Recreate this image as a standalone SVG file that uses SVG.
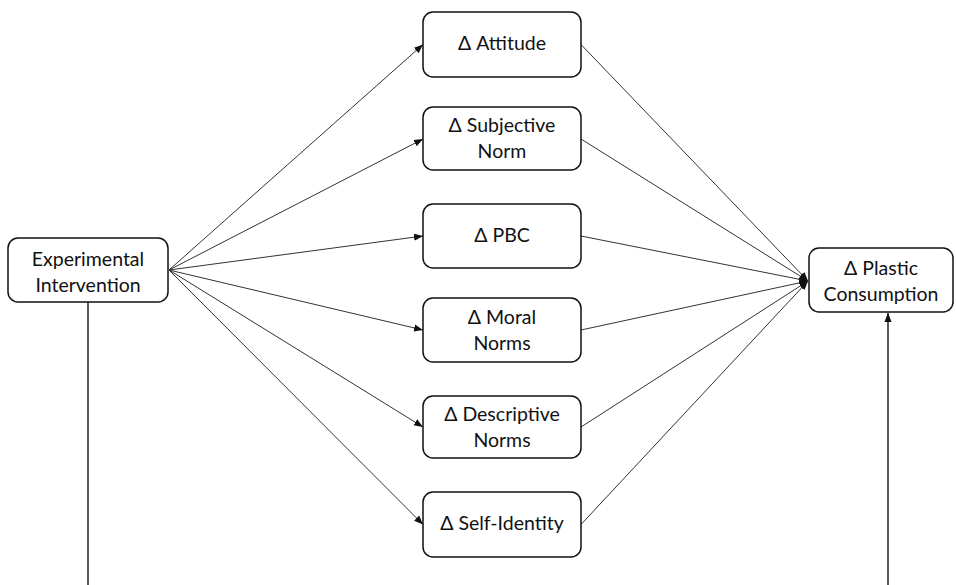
<svg xmlns="http://www.w3.org/2000/svg" width="956" height="585" viewBox="0 0 956 585">
  <style>
    .box { fill: #ffffff; stroke: #111111; stroke-width: 1.5; }
    .lbl { font-family: "Lato", "Open Sans", "Liberation Sans", sans-serif; font-size: 19.5px; fill: #111111; text-anchor: middle; }
    .edge { fill: none; stroke: #333333; stroke-width: 1; }
    .edge-arrow { marker-end: url(#head); }
    .stem { fill: none; stroke: #333333; stroke-width: 1.6; }
  </style>
  <defs>
    <marker id="head" viewBox="0 0 10 10" refX="10" refY="5" markerWidth="9" markerHeight="9" markerUnits="userSpaceOnUse" orient="auto">
      <path d="M0,1 L10,5 L0,9 Z" fill="#111111"/>
    </marker>
  </defs>
  <rect width="956" height="585" fill="#ffffff"/>

  <g id="connectors">
    <!-- intervention to each mediator -->
    <line class="edge edge-arrow" x1="169" y1="270" x2="423" y2="44.5"/>
    <line class="edge edge-arrow" x1="169" y1="270" x2="423" y2="139"/>
    <line class="edge edge-arrow" x1="169" y1="270" x2="423" y2="236"/>
    <line class="edge edge-arrow" x1="169" y1="270" x2="423" y2="330"/>
    <line class="edge edge-arrow" x1="169" y1="270" x2="423" y2="427"/>
    <line class="edge edge-arrow" x1="169" y1="270" x2="423" y2="524.5"/>
    <!-- each mediator to plastic consumption -->
    <line class="edge edge-arrow" x1="581" y1="44.5" x2="808" y2="281"/>
    <line class="edge edge-arrow" x1="581" y1="139" x2="808" y2="281"/>
    <line class="edge edge-arrow" x1="581" y1="236" x2="808" y2="281"/>
    <line class="edge edge-arrow" x1="581" y1="330" x2="808" y2="281"/>
    <line class="edge edge-arrow" x1="581" y1="427" x2="808" y2="281"/>
    <line class="edge edge-arrow" x1="581" y1="524.5" x2="808" y2="281"/>
    <!-- direct path, leaving and entering from below -->
    <line class="stem" x1="88" y1="302" x2="88" y2="585"/>
    <line class="stem" x1="888" y1="585" x2="888" y2="313" marker-end="url(#head)"/>
  </g>

  <g id="experimental-intervention">
    <rect class="box" x="8" y="238" width="160" height="64" rx="10"/>
    <text class="lbl" x="88" y="266">Experimental</text>
    <text class="lbl" x="88" y="292">Intervention</text>
  </g>

  <g id="attitude">
    <rect class="box" x="423" y="12" width="158" height="65" rx="10"/>
    <text class="lbl" x="502" y="50">Δ Attitude</text>
  </g>

  <g id="subjective-norm">
    <rect class="box" x="423" y="107" width="158" height="63" rx="10"/>
    <text class="lbl" x="502" y="132">Δ Subjective</text>
    <text class="lbl" x="502" y="158">Norm</text>
  </g>

  <g id="pbc">
    <rect class="box" x="423" y="204" width="158" height="64" rx="10"/>
    <text class="lbl" x="502" y="242">Δ PBC</text>
  </g>

  <g id="moral-norms">
    <rect class="box" x="423" y="298" width="158" height="64" rx="10"/>
    <text class="lbl" x="502" y="324">Δ Moral</text>
    <text class="lbl" x="502" y="350">Norms</text>
  </g>

  <g id="descriptive-norms">
    <rect class="box" x="423" y="396" width="158" height="62" rx="10"/>
    <text class="lbl" x="502" y="421">Δ Descriptive</text>
    <text class="lbl" x="502" y="447">Norms</text>
  </g>

  <g id="self-identity">
    <rect class="box" x="423" y="492" width="158" height="65" rx="10"/>
    <text class="lbl" x="502" y="530">Δ Self-Identity</text>
  </g>

  <g id="plastic-consumption">
    <rect class="box" x="809" y="248" width="144" height="64" rx="10"/>
    <text class="lbl" x="881" y="275">Δ Plastic</text>
    <text class="lbl" x="881" y="301">Consumption</text>
  </g>
</svg>
